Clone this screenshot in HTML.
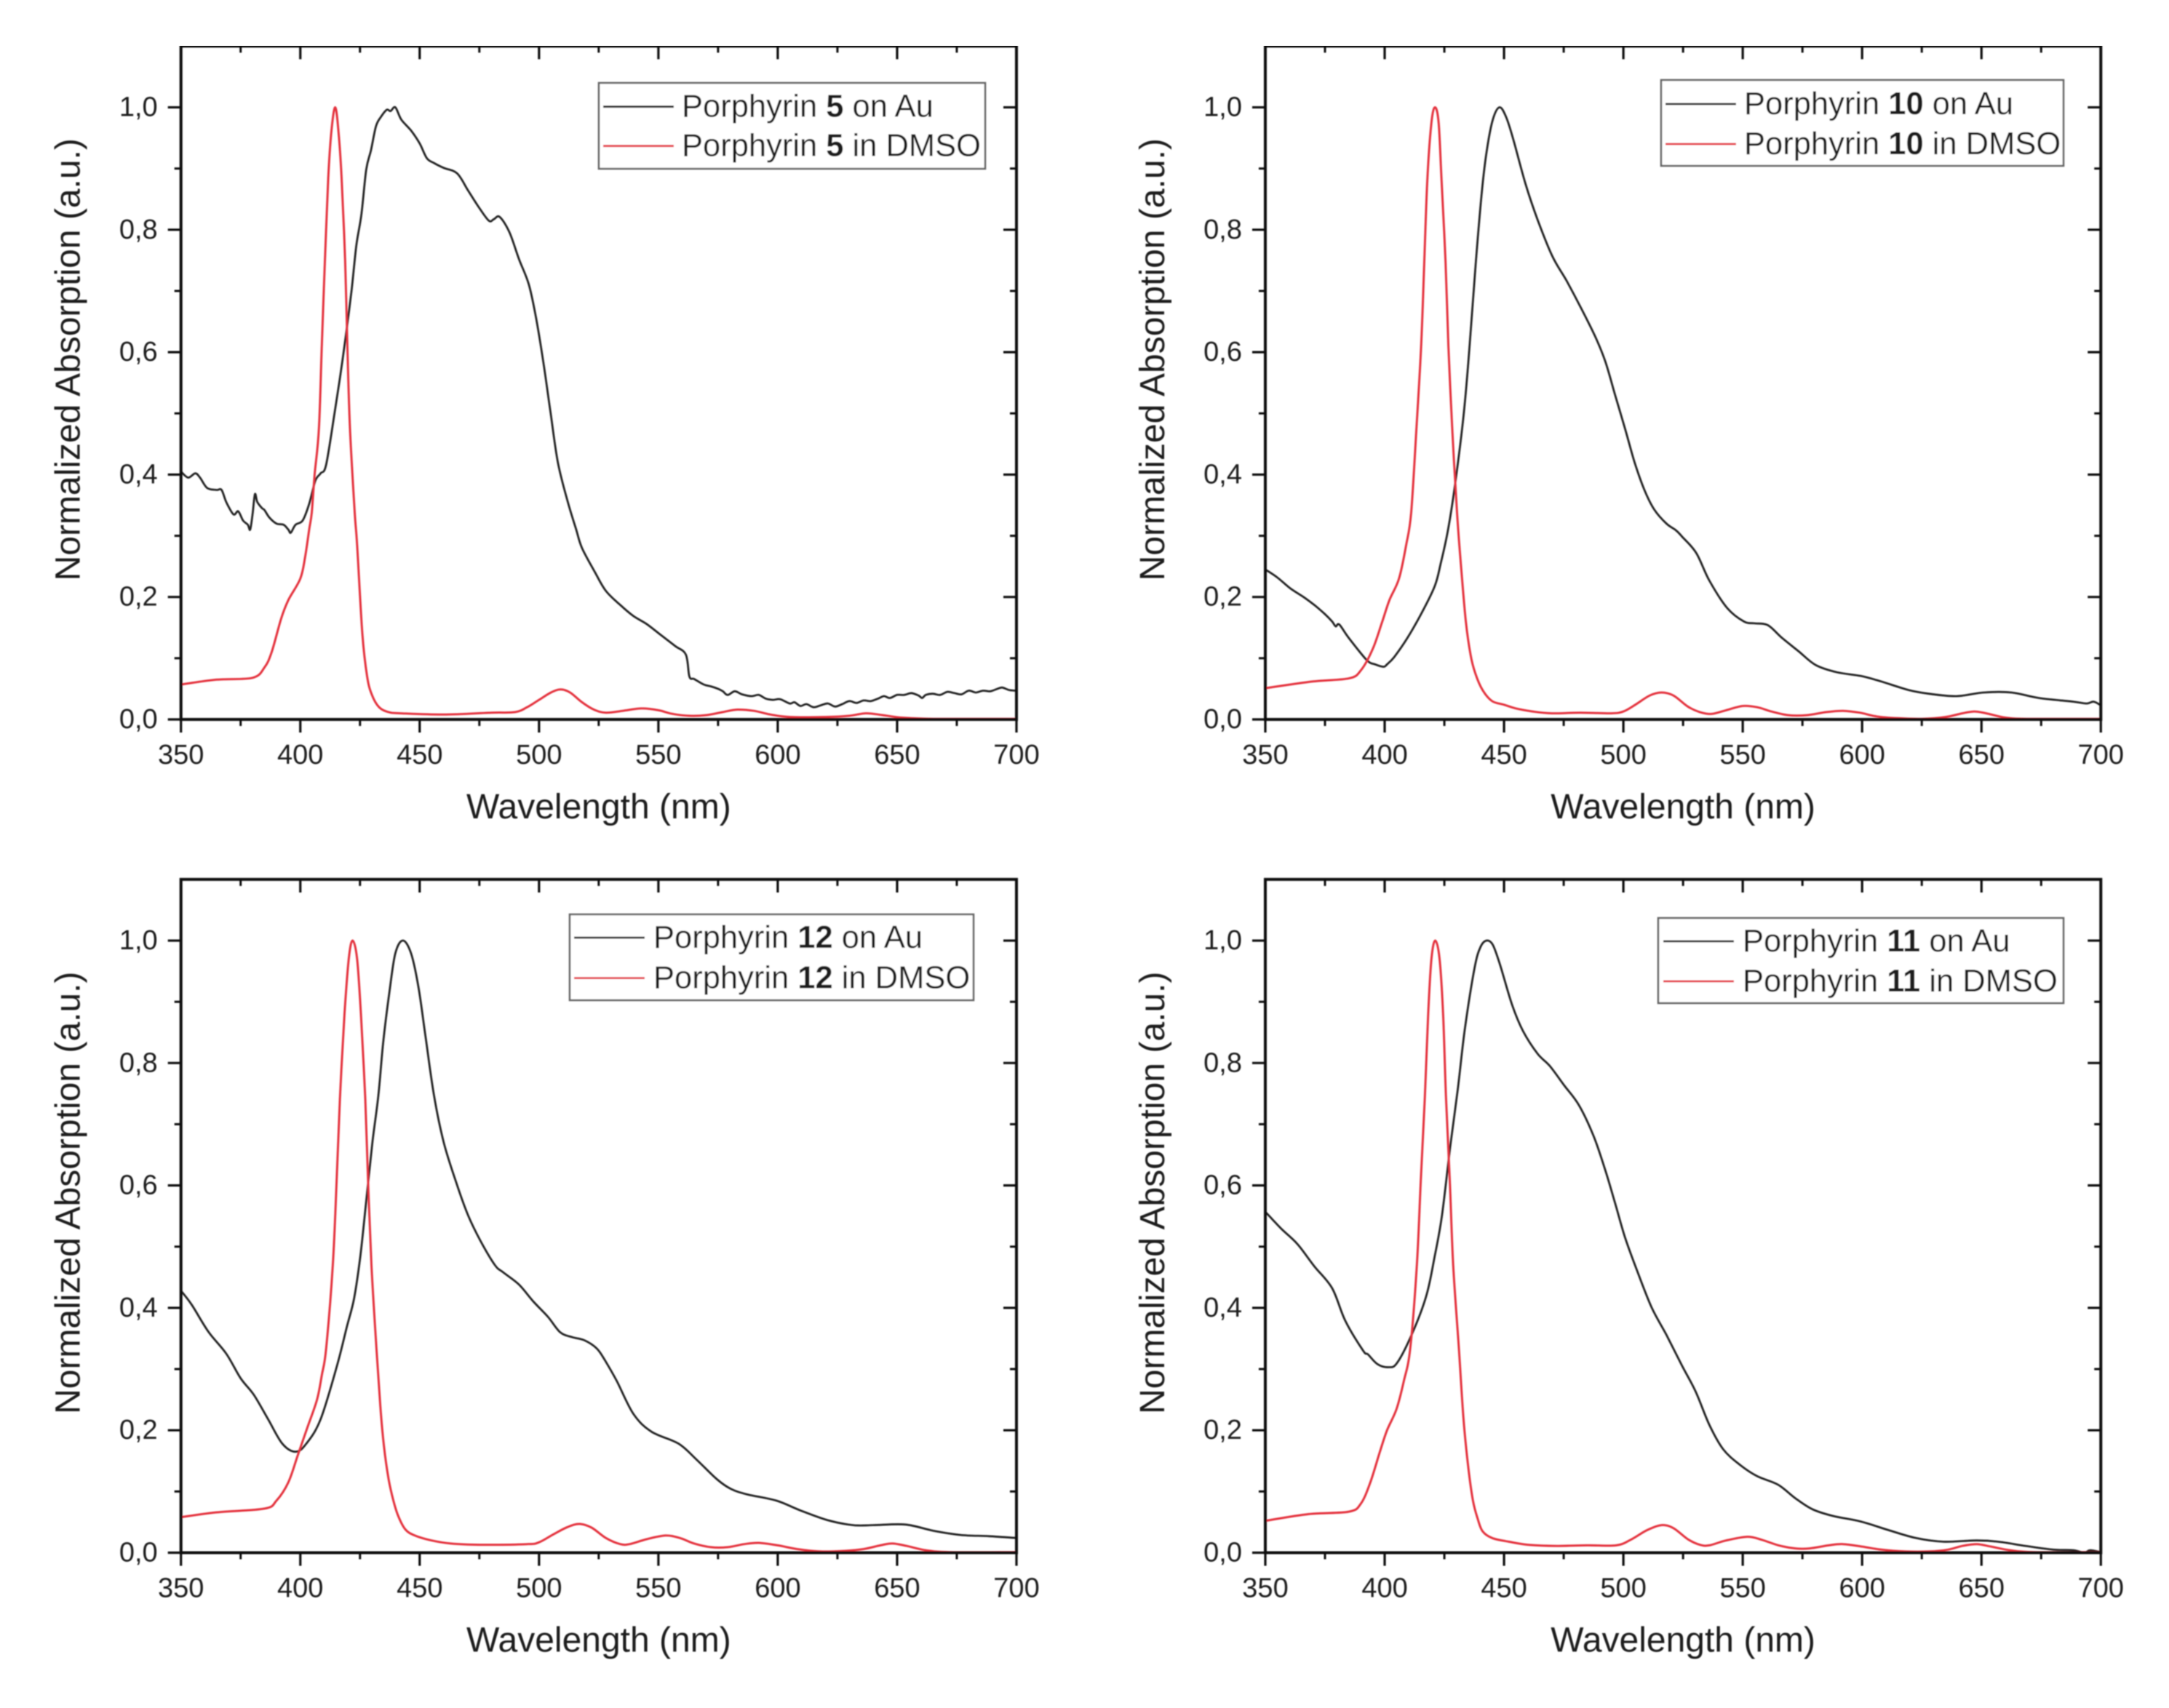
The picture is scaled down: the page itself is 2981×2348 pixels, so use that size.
<!DOCTYPE html>
<html lang="en">
<head>
<meta charset="utf-8">
<title>Normalized absorption spectra of porphyrins 5, 10, 12 and 11</title>
<style>
html,body{margin:0;padding:0;background:#fff;width:2981px;height:2348px;overflow:hidden}
svg{display:block}
text{font-family:"Liberation Sans",sans-serif;fill:#1c1c1c}
</style>
</head>
<body>
<svg id="figure" xmlns="http://www.w3.org/2000/svg" width="2981" height="2348" viewBox="0 0 2981 2348">
<defs><filter id="soft" x="0" y="0" width="100%" height="100%"><feGaussianBlur stdDeviation="0.9"/></filter></defs>
<rect width="2981" height="2348" fill="#fff"/>
<g id="root" filter="url(#soft)"></g>
</svg>
<script>
const xTicks = [350,400,450,500,550,600,650,700];
const xMinorTicks = [375,425,475,525,575,625,675];
const yTicks = [0,0.2,0.4,0.6,0.8,1.0];
const yMinorTicks = [0.1,0.3,0.5,0.7,0.9];
const yTickLabels = ["0,0","0,2","0,4","0,6","0,8","1,0"];
const xDomain = [350,700];
const yDomain = [0,1.1];

const au5X = [350,353,356,358,361,365,367,369,372,374,376,378,379,380,381,382,384,385,387,390,393,395,396,398,401,403.7,406.3,408.5,410.8,414.4,416.9,419,421.5,423.5,425.6,427.6,429.6,431.7,433.7,436.2,437.8,439.8,442.3,446.4,450,453,456,460.1,465.7,470.3,474.4,478.9,481,483.5,487.6,491.6,495.7,498.7,501.8,504.8,507.9,512,515.5,518,523.5,528,534,539.5,545,551,557,561.5,563,565,569,572,575,577,579,582,585,589,592,595,598,601,605,607,609.5,612,615,618,621,624,627,630,633,636,639,642,644.5,647,650,653,656,659,660.5,662,665,668,671,674,677,680,683,686,689,692,694,697,700];
const au5Y = [.405,.395,.402,.395,.378,.375,.375,.355,.335,.34,.325,.318,.31,.335,.368,.355,.345,.342,.33,.32,.318,.31,.305,.318,.325,.352,.39,.402,.416,.502,.566,.625,.702,.775,.825,.898,.93,.969,.984,.996,.994,1,.98,.962,.941,.917,.909,.901,.892,.864,.839,.815,.817,.821,.796,.752,.711,.657,.584,.502,.42,.356,.311,.28,.24,.21,.187,.169,.156,.138,.12,.106,.07,.066,.057,.054,.05,.046,.04,.046,.041,.038,.04,.034,.032,.033,.026,.028,.022,.025,.02,.023,.026,.021,.025,.03,.027,.031,.03,.034,.038,.035,.04,.04,.043,.039,.035,.04,.042,.04,.045,.043,.041,.047,.044,.047,.046,.05,.052,.048,.047];
const dmso5X = [350,365,380,385,388,392,395,400,402,403.7,404.8,406,407.8,409,410.3,411.7,413,414.6,416,417.3,418.8,419.7,420.8,422.8,423.8,426,428,430,433,437,442,460,480,490,495,500,505,509,513,518,523,528,535,543,550,556,563,570,577,583,590,597,605,620,630,637,644,652,665,700];
const dmso5Y = [.057,.065,.068,.085,.11,.165,.195,.23,.265,.31,.338,.4,.475,.611,.748,.884,.96,1,.96,.884,.748,.611,.475,.338,.285,.14,.07,.04,.02,.012,.01,.008,.011,.012,.02,.032,.044,.049,.044,.028,.016,.011,.014,.018,.015,.009,.006,.007,.012,.016,.014,.008,.004,.004,.006,.01,.007,.003,.001,.001];

const au10X = [350,355,360.5,366,370.5,375,378,379.5,381,385,392.5,396,399.5,401,404,409.5,415.5,421,423.5,426.5,429.5,433.1,435.6,438.2,440.7,442.8,445.3,448.1,450.9,454,459,464.1,470.2,476.3,482.4,488.5,492.5,496.6,500.7,504.7,508.8,512.9,518,522,524.5,530.5,536,543.5,550.5,555,560.5,566.5,573.5,580.5,589.5,599.5,608,619.5,628,639.5,651,662.5,674,688.5,694,697,700];
const au10Y = [.245,.232,.214,.2,.187,.172,.16,.152,.155,.133,.097,.09,.086,.09,.102,.133,.174,.218,.255,.309,.384,.498,.611,.748,.862,.93,.98,1,.984,.946,.875,.816,.757,.716,.671,.623,.584,.529,.475,.42,.375,.343,.32,.309,.299,.272,.227,.182,.16,.157,.154,.133,.111,.089,.077,.071,.062,.048,.042,.038,.044,.044,.035,.029,.026,.029,.023];
const dmso10X = [350,370,385,390,395,399,402,406,409,411.1,413.3,415.3,416.6,417.9,419.6,421.1,422.6,423.8,425.5,426.7,428.3,430.3,432,434,436,438,441,445,450,455,462,470,482,495,500,505,511,516,521,527,532,537,543,550,556,562,569,577,585,592,599,606,615,625,635,642,647,652,660,670,700];
const dmso10Y = [.051,.062,.067,.08,.115,.16,.195,.23,.285,.338,.475,.611,.748,.884,.975,1,.975,.884,.748,.611,.475,.338,.25,.16,.105,.075,.048,.03,.024,.018,.013,.01,.011,.01,.013,.024,.039,.044,.039,.021,.012,.009,.015,.022,.02,.013,.007,.007,.012,.014,.011,.005,.002,.001,.004,.01,.013,.01,.003,.001,.001];

const au12X = [350,354.5,361.5,369,375,380.5,386.5,392.5,398,402.5,408.5,415.4,419.5,422.5,425.1,427.6,430.2,432.7,434.7,437.3,439.8,443,446.4,449.5,452.5,456,460.1,465.2,470.3,475.4,481.5,485,491.6,497.7,503.8,508.9,514,519,524.1,527.5,532.5,539.5,547,558.5,566,574.5,580.5,587.5,599.5,609.5,621,631.5,640,653.5,665,676.5,688.5,700];
const au12Y = [.428,.405,.361,.325,.285,.258,.218,.178,.165,.178,.218,.306,.369,.415,.483,.574,.67,.747,.833,.915,.979,1,.979,.924,.842,.747,.67,.606,.551,.51,.47,.458,.438,.41,.385,.36,.352,.347,.334,.315,.281,.227,.198,.178,.152,.12,.104,.095,.085,.069,.053,.045,.045,.046,.036,.029,.027,.024];
const dmso12X = [350,365,385,390,395,399,403,407,409,410.8,413.6,415.2,416.6,418.5,420.3,421.9,423.8,425.4,427.2,428.4,429.8,431.9,433.5,435,437,439,441,444,448,455,463,475,495,500,506,512,517,522,528,534,538,545,553,559,565,572,579,586,592,600,608,618,628,636,643,648,654,662,672,700];
const dmso12Y = [.058,.066,.072,.085,.115,.16,.205,.25,.29,.333,.47,.606,.742,.879,.97,1,.97,.879,.742,.606,.47,.333,.24,.175,.12,.085,.06,.038,.028,.02,.015,.013,.014,.017,.03,.042,.047,.041,.024,.014,.014,.022,.028,.024,.015,.009,.009,.014,.016,.012,.006,.002,.003,.006,.012,.015,.011,.004,.001,.001];

const au11X = [350,356.5,363.5,370.5,378,383.5,391,393,397,401.6,405.2,411.3,417.4,420.9,424,427.5,430.6,433.6,437.7,440.2,442.7,445.3,448.3,453.4,458,464.1,469.2,475.3,481.4,487.5,492.5,496.6,500.7,505.8,511.8,518,524.5,530.3,536,541.8,549,556,564.8,572,579.2,587.8,599.4,611,622.5,634,648,657,668.5,680,688.5,693,695.5,700];
const au11Y = [.557,.53,.504,.468,.432,.379,.33,.324,.308,.303,.31,.356,.419,.483,.551,.665,.756,.856,.956,.99,1,.993,.961,.895,.852,.815,.795,.763,.731,.681,.624,.57,.515,.46,.401,.356,.306,.263,.209,.169,.143,.125,.111,.089,.071,.06,.051,.037,.024,.018,.02,.018,.011,.005,.004,0,.004,.001];
const dmso11X = [350,368,385,390,394,398,401,405,408,410.7,413.5,415.1,416.8,418.2,419.6,421.2,423,424.5,425.7,427.3,428.7,431.1,433,435,437,439,441,445,452,460,472,485,497,503,510,516,521,527,532,536,543,552,558,565,572,578,586,592,600,608,618,628,636,642,648,654,662,672,700];
const dmso11Y = [.052,.063,.067,.08,.115,.165,.2,.235,.28,.333,.47,.606,.742,.879,.97,1,.97,.879,.742,.606,.47,.333,.22,.14,.085,.055,.035,.024,.018,.013,.011,.012,.012,.021,.037,.045,.04,.022,.013,.012,.02,.026,.021,.012,.007,.007,.012,.014,.01,.005,.002,.002,.005,.011,.014,.01,.004,.001,.001];

const panels = [
  {id:"5", x0:248.7, yZero:989, auX:au5X, auY:au5Y, dmsoX:dmso5X, dmsoY:dmso5Y, lg:[823,114,531,118], lgLine:[829,926], lgText:937, lgRows:[146.7,200.7]},
  {id:"10", x0:1739, yZero:989, auX:au10X, auY:au10Y, dmsoX:dmso10X, dmsoY:dmso10Y, lg:[2283,110,553,118], lgLine:[2289,2386], lgText:2397, lgRows:[143,198]},
  {id:"12", x0:248.7, yZero:2134.5, auX:au12X, auY:au12Y, dmsoX:dmso12X, dmsoY:dmso12Y, lg:[783,1257,555,118], lgLine:[789,886], lgText:898, lgRows:[1289,1344.6]},
  {id:"11", x0:1739, yZero:2134.5, auX:au11X, auY:au11Y, dmsoX:dmso11X, dmsoY:dmso11Y, lg:[2279,1262,557,117], lgLine:[2286,2383], lgText:2395, lgRows:[1294,1349]}
];

const NS = "http://www.w3.org/2000/svg";
const PW = 1148.3, PH = 925.6;
const BLACK = "#232323", RED = "#e4303c";

function make(parent, tag, attrs, text){
  const el = document.createElementNS(NS, tag);
  for (const k in attrs) el.setAttribute(k, attrs[k]);
  if (text !== undefined) el.textContent = text;
  parent.appendChild(el);
  return el;
}
function tick(parent, x1, y1, x2, y2, w){
  return make(parent, "line", {x1, y1, x2, y2, stroke:"#111", "stroke-width":w});
}
function smoothPath(xs, ys, sx, sy){
  const p = xs.map((v,i)=>[sx(v), sy(ys[i])]);
  let d = "M" + p[0][0].toFixed(1) + " " + p[0][1].toFixed(1);
  for (let i=0;i<p.length-1;i++){
    const a=p[Math.max(i-1,0)], b=p[i], c=p[i+1], e=p[Math.min(i+2,p.length-1)];
    const c1x=b[0]+(c[0]-a[0])/6, c1y=b[1]+(c[1]-a[1])/6;
    const c2x=c[0]-(e[0]-b[0])/6, c2y=c[1]-(e[1]-b[1])/6;
    d += "C"+c1x.toFixed(1)+" "+c1y.toFixed(1)+" "+c2x.toFixed(1)+" "+c2y.toFixed(1)+" "+c[0].toFixed(1)+" "+c[1].toFixed(1);
  }
  return d;
}

const root = document.getElementById("root");
panels.forEach(function(p){
  const sx = v => p.x0 + (v-xDomain[0])/(xDomain[1]-xDomain[0])*PW;
  const sy = v => p.yZero - (v-yDomain[0])/(yDomain[1]-yDomain[0])*PH;
  const top = sy(yDomain[1]), right = sx(xDomain[1]);

  const g = make(root, "g", {});
  
  

  const au = make(g, "path", {d:smoothPath(p.auX,p.auY,sx,sy), fill:"none", stroke:BLACK, "stroke-width":2.8, "stroke-linejoin":"round"});
  
  
  const dm = make(g, "path", {d:smoothPath(p.dmsoX,p.dmsoY,sx,sy), fill:"none", stroke:RED, "stroke-width":3, "stroke-linejoin":"round"});
  
  

  const frame = make(g, "rect", {x:p.x0, y:top, width:PW, height:PH, fill:"none", stroke:"#111", "stroke-width":4});
  
  

  const xAxis = make(g, "g", {});
  
  
  xTicks.forEach(function(t){
    tick(xAxis, sx(t), p.yZero, sx(t), p.yZero+18, 3.2);
    tick(xAxis, sx(t), top, sx(t), top+18, 3.2);
    const lb = make(xAxis, "text", {x:sx(t), y:p.yZero+61, "font-size":38, "text-anchor":"middle"}, String(t));
    
    
  });
  xMinorTicks.forEach(function(t){
    tick(xAxis, sx(t), p.yZero, sx(t), p.yZero+9, 3);
    tick(xAxis, sx(t), top, sx(t), top+9, 3);
  });

  const yAxis = make(g, "g", {});
  
  
  yTicks.forEach(function(t,i){
    tick(yAxis, p.x0-18, sy(t), p.x0, sy(t), 3.2);
    tick(yAxis, right-18, sy(t), right, sy(t), 3.2);
    const lb = make(yAxis, "text", {x:p.x0-32, y:sy(t)+12, "font-size":38, "text-anchor":"end"}, yTickLabels[i]);
    
    
  });
  yMinorTicks.forEach(function(t){
    tick(yAxis, p.x0-9, sy(t), p.x0, sy(t), 3);
    tick(yAxis, right-9, sy(t), right, sy(t), 3);
  });

  const xt = make(g, "text", {x:p.x0+PW/2, y:p.yZero+136, "font-size":48, "text-anchor":"middle"}, "Wavelength (nm)");
  
  
  const yc = sy(0.5)-74;
  const yx = p.x0-139;
  const yt = make(g, "text", {x:yx, y:yc, "font-size":48, "text-anchor":"middle", transform:"rotate(-90 "+yx+" "+yc+")"}, "Normalized Absorption (a.u.)");
  
  

  const lg = make(g, "g", {});
  
  
  const box = make(lg, "rect", {x:p.lg[0], y:p.lg[1], width:p.lg[2], height:p.lg[3], fill:"#fff", stroke:"#666", "stroke-width":2.6});
  
  
  [[BLACK," on Au"],[RED," in DMSO"]].forEach(function(row,i){
    const ly = p.lgRows[i];
    const ln = make(lg, "line", {x1:p.lgLine[0], y1:ly, x2:p.lgLine[1], y2:ly, stroke:row[0], "stroke-width":2.8});
    
    
    const tx = make(lg, "text", {x:p.lgText, y:ly+14, "font-size":43.5});
    
    
    make(tx, "tspan", {}, "Porphyrin ");
    make(tx, "tspan", {"font-weight":"bold"}, p.id);
    make(tx, "tspan", {}, row[1]);
  });
});
</script>
</body>
</html>
